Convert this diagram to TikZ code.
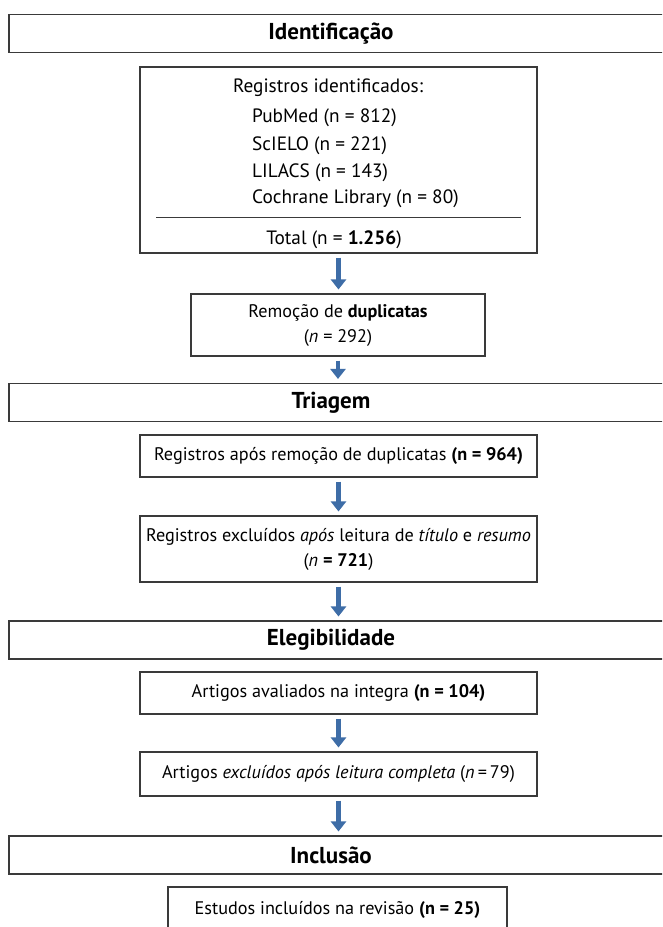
\documentclass[tikz,border=0pt]{standalone}
\usepackage{fontspec}
\setmainfont{PT Sans}
\usetikzlibrary{arrows.meta}
\definecolor{arrowblue}{HTML}{3E6DA7}
\definecolor{boxline}{HTML}{3A3A3A}
\newcommand{\bodyfont}{\fontsize{18.2}{25}\selectfont}
\newcommand{\listfont}{\fontsize{19.3}{25}\selectfont}
\newcommand{\headfont}{\fontsize{23}{26}\selectfont\bfseries}
\begin{document}
\begin{tikzpicture}[x=1pt,y=-1pt,
  box/.style={draw=boxline, line width=1.1pt, inner sep=0pt, font=\bodyfont, align=center},
  hdr/.style={draw=boxline, line width=1.1pt, inner sep=0pt, minimum width=671pt, minimum height=38pt},
  htext/.style={font=\headfont, inner sep=0pt},
  txt/.style={font=\listfont, inner sep=0pt},
  rule/.style={draw=boxline, line width=1pt},
  flow/.style={draw=arrowblue, line width=4.5pt, -{Triangle[width=15pt,length=10pt]}, shorten <=4pt, shorten >=4pt}]
\useasboundingbox (0,0) rectangle (662,927);
\clip (0,0) rectangle (662,927);
\fill[white] (0,0) rectangle (662,927);

% Headers
\node[hdr] (h1) at (344.5,33.5) {};
\node[htext] (h1t) at ([xshift=-13.5pt]h1.center) {Identificação};
\node[hdr] (h2) at (344.5,402.5) {};
\node[htext] (h2t) at ([xshift=-13.5pt]h2.center) {Triagem};
\node[hdr] (h3) at (344.5,640) {};
\node[htext] (h3t) at ([xshift=-13.5pt]h3.center) {Elegibilidade};
\node[hdr] (h4) at (344.5,855) {};
\node[htext] (h4t) at ([xshift=-13.5pt]h4.center) {Inclusão};

% Box 1
\node[box, minimum width=397pt, minimum height=186pt] (b1) at (338.5,160) {};
\node[txt] (b1a) at (328,88) {Registros identificados:};
\node[txt, anchor=west] (b1b) at (252,118) {PubMed (n = 812)};
\node[txt, anchor=west] (b1c) at (252,146) {ScIELO (n = 221)};
\node[txt, anchor=west] (b1d) at (252,173) {LILACS (n = 143)};
\node[txt, anchor=west] (b1e) at (252,199) {Cochrane Library (n = 80)};
\draw[rule] (156,217) -- (521,217);
\node[txt] (b1t) at (334,240) {Total (n = \textbf{1.256})};

% Box 2
\node[box, minimum width=294pt, minimum height=62pt] (b2) at (338,325) {Remoção de \textbf{duplicatas}\\(\textit{n} = 292)};

% Triagem boxes
\node[box, minimum width=397pt, minimum height=42pt] (b3) at (338.5,456) {Registros após remoção de duplicatas \textbf{(n = 964)}};
\node[box, minimum width=397pt, minimum height=66pt] (b4) at (338.5,549) {Registros excluídos \textit{após} leitura de \textit{título} e \textit{resumo}\\(\textit{n} \textbf{= 721})};

% Elegibilidade boxes
\node[box, minimum width=397pt, minimum height=42pt] (b5) at (338.5,693) {Artigos avaliados na integra \textbf{(n = 104)}};
\node[box, minimum width=397pt, minimum height=44pt] (b6) at (338.5,774) {Artigos \textit{excluídos após leitura completa} (\textit{n}\,=\,79)};

% Inclusao box
\node[box, minimum width=339pt, minimum height=46pt] (b7) at (337.5,910) {Estudos incluídos na revisão \textbf{(n = 25)}};

% Arrows
\draw[flow] (b1.south) -- (b1.south |- b2.north);
\draw[flow] (b2.south) -- (b2.south |- h2.north);
\draw[flow] (b3.south) -- (b3.south |- b4.north);
\draw[flow] (b4.south) -- (b4.south |- h3.north);
\draw[flow] (b5.south) -- (b5.south |- b6.north);
\draw[flow] (b6.south) -- (b6.south |- h4.north);
\end{tikzpicture}
\end{document}
